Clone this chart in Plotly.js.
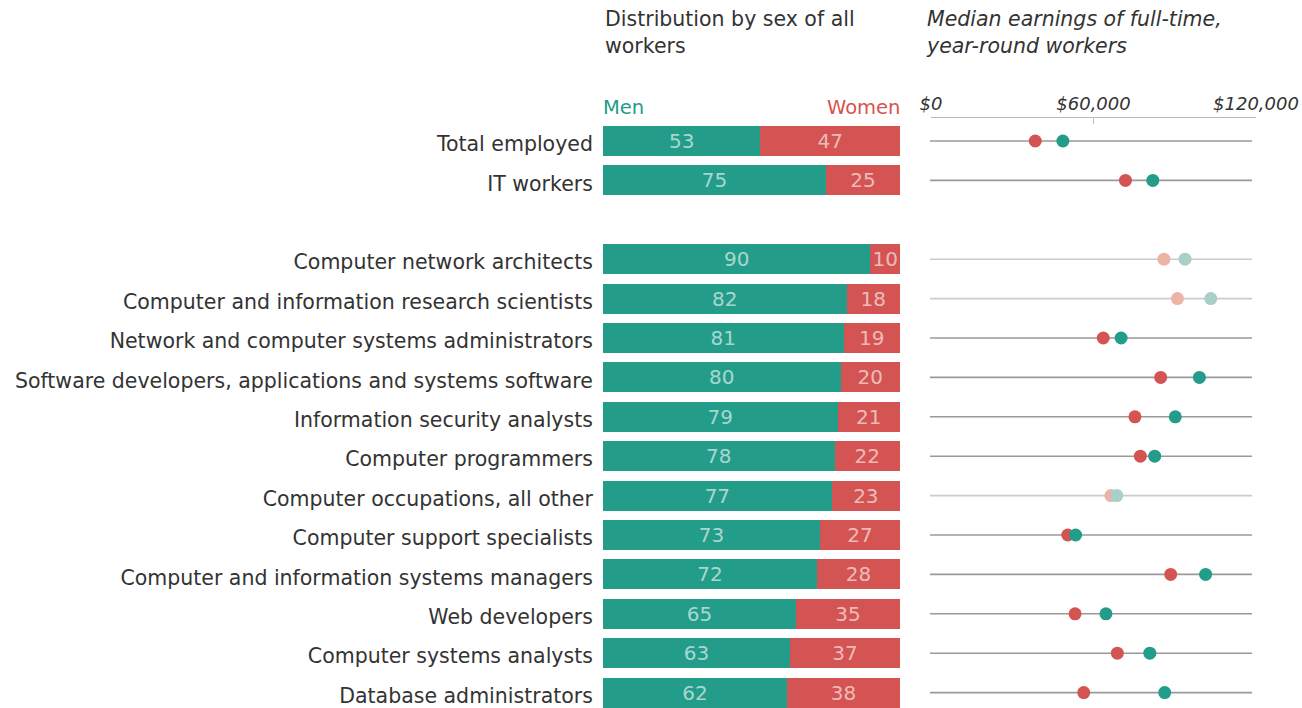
<!DOCTYPE html>
<html>
<head>
<meta charset="utf-8">
<script src="https://cdn.plot.ly/plotly-3.0.1.min.js"></script>
<style>
  html, body { margin: 0; padding: 0; background: #fff; }
  #chart { width: 1302px; height: 708px; }
</style>
</head>
<body>
<div id="chart"></div>
<script>
// ---- data ----
const categories = [
  "Total employed",
  "IT workers",
  "Computer network architects",
  "Computer and information research scientists",
  "Network and computer systems administrators",
  "Software developers, applications and systems software",
  "Information security analysts",
  "Computer programmers",
  "Computer occupations, all other",
  "Computer support specialists",
  "Computer and information systems managers",
  "Web developers",
  "Computer systems analysts",
  "Database administrators"
];
const menShare   = [53, 75, 90, 82, 81, 80, 79, 78, 77, 73, 72, 65, 63, 62];
const womenShare = [47, 25, 10, 18, 19, 20, 21, 22, 23, 27, 28, 35, 37, 38];
const menEarnings   = [48700, 81900, 93800, 103300, 70200, 99100, 90200, 82600, 68600, 53400, 101400, 64600, 80800, 86300];
const womenEarnings = [38500, 71800, 86000, 91000, 63600, 84800, 75300, 77300, 66400, 50500, 88500, 53200, 68800, 56400];
const faded = [false, false, true, true, false, false, false, false, true, false, false, false, false, false];
const earnTickVals = [0, 60000, 120000];
const earnTickText = ["$0", "$60,000", "$120,000"];

// ---- style ----
const TEAL = "#239c89";
const RED = "#d35452";
const TEAL_FADED = "#a9cfc6";
const RED_FADED = "#ebb4a7";
const FONT = "DejaVu Sans, Verdana, sans-serif";
const W = 1302, H = 708, TOP = 118;

// rows: a blank slot separates the two summary rows from the occupations
const rowPos = categories.map((c, i) => (i < 2 ? i : i + 1));

const barText = { family: FONT, size: 20, color: "rgba(255,255,255,0.62)" };

const traces = [
  {
    type: "bar", orientation: "h", name: "Men",
    x: menShare, y: rowPos, xaxis: "x", yaxis: "y",
    marker: { color: TEAL },
    width: 0.76,
    text: menShare.map(String), textposition: "inside", insidetextanchor: "middle",
    textangle: 0, constraintext: "none",
    textfont: barText, insidetextfont: barText,
    hoverinfo: "skip"
  },
  {
    type: "bar", orientation: "h", name: "Women",
    x: womenShare, y: rowPos, xaxis: "x", yaxis: "y",
    marker: { color: RED },
    width: 0.76,
    text: womenShare.map(String), textposition: "inside", insidetextanchor: "middle",
    textangle: 0, constraintext: "none",
    textfont: barText, insidetextfont: barText,
    hoverinfo: "skip"
  },
  {
    type: "scatter", mode: "markers", name: "Women earnings",
    x: womenEarnings, y: rowPos, xaxis: "x2", yaxis: "y2",
    marker: { size: 13, color: faded.map(f => f ? RED_FADED : RED), line: { width: 0 } },
    hoverinfo: "skip", cliponaxis: false
  },
  {
    type: "scatter", mode: "markers", name: "Men earnings",
    x: menEarnings, y: rowPos, xaxis: "x2", yaxis: "y2",
    marker: { size: 13, color: faded.map(f => f ? TEAL_FADED : TEAL), line: { width: 0 } },
    hoverinfo: "skip", cliponaxis: false
  }
];

const rowLines = rowPos.map((r, i) => ({
  type: "line", xref: "x2 domain", yref: "y2",
  x0: -0.003, x1: 0.988, y0: r, y1: r,
  line: { color: faded[i] ? "#cccccc" : "#9a9a9a", width: 1.6 },
  layer: "below"
}));

// y range chosen so plot area spans pixel TOP..H with row pitch ~39.4px
const pitch = 39.4;
const firstRowPx = 141;
const yTop = (TOP - firstRowPx) / pitch;
const yBottom = (H - firstRowPx) / pitch;

function py(p) { return (H - p) / (H - TOP); }

const annotations = [
  {
    xref: "paper", yref: "paper", x: 603 / W, y: py(5), xanchor: "left", yanchor: "top", align: "left",
    text: "Distribution by sex of all<br>workers", showarrow: false,
    font: { family: FONT, size: 20.5, color: "#333" }
  },
  {
    xref: "paper", yref: "paper", x: 924 / W, y: py(5), xanchor: "left", yanchor: "top", align: "left",
    text: "Median earnings of full-time,<br>year-round workers", showarrow: false,
    font: { family: FONT, size: 20.5, color: "#333", style: "italic" }
  },
  {
    xref: "x", yref: "paper", x: 0, y: py(121), xanchor: "left", yanchor: "bottom",
    text: "Men", showarrow: false, xshift: -2,
    font: { family: FONT, size: 19.5, color: TEAL }
  },
  {
    xref: "x", yref: "paper", x: 100, y: py(121), xanchor: "right", yanchor: "bottom",
    text: "Women", showarrow: false, xshift: 2,
    font: { family: FONT, size: 19.5, color: RED }
  }
];

const layout = {
  width: W, height: H,
  margin: { l: 0, r: 0, t: TOP, b: 0, pad: 0 },
  paper_bgcolor: "#fff", plot_bgcolor: "rgba(0,0,0,0)",
  showlegend: false,
  barmode: "stack",
  bargap: 0,
  font: { family: FONT, color: "#333" },
  xaxis: {
    domain: [603 / W, 900 / W], range: [0, 100], anchor: "y",
    showgrid: false, zeroline: false, showline: false, showticklabels: false, ticks: "",
    fixedrange: true
  },
  yaxis: {
    domain: [0, 1], range: [yBottom, yTop], anchor: "x", automargin: false,
    tickmode: "array", tickvals: rowPos, ticktext: categories,
    ticks: "outside", ticklen: 5, tickcolor: "rgba(0,0,0,0)",
    ticklabelshift: -3,
    tickfont: { family: FONT, size: 20.5, color: "#333" },
    showgrid: false, zeroline: false, showline: false, fixedrange: true
  },
  xaxis2: {
    domain: [931 / W, 1256 / W], range: [0, 120000], anchor: "y2", side: "top",
    automargin: false, ticklabeloverflow: "allow",
    tickmode: "array", tickvals: earnTickVals, ticktext: earnTickText,
    ticks: "inside", ticklen: 6, tickcolor: "#bbbbbb", tickwidth: 1.2,
    showline: true, linecolor: "#bbbbbb", linewidth: 1.2,
    tickfont: { family: FONT, size: 18, color: "#333", style: "italic" },
    showgrid: false, zeroline: false, fixedrange: true
  },
  yaxis2: {
    domain: [0, 1], range: [yBottom, yTop], anchor: "x2",
    visible: false, showgrid: false, zeroline: false, fixedrange: true
  },
  shapes: rowLines,
  annotations: annotations
};

Plotly.newPlot("chart", traces, layout, { displayModeBar: false, staticPlot: true });
</script>
</body>
</html>
